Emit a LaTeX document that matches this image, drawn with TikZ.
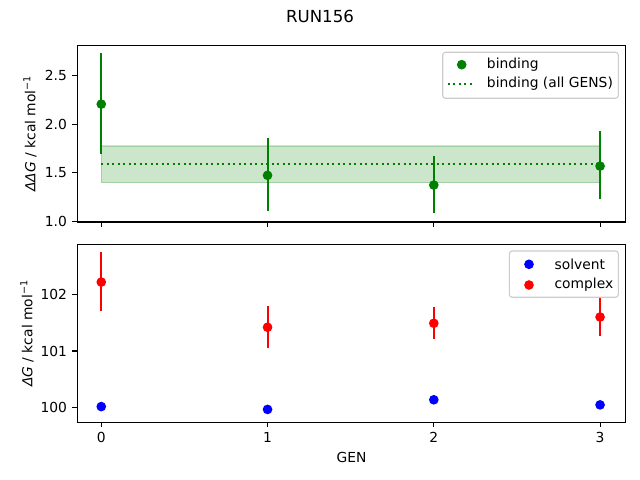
\documentclass[tikz,border=0pt]{standalone}
\usepackage{fontspec}
\setmainfont{DejaVu Sans}
\definecolor{mplgreen}{HTML}{008000}
\definecolor{mplblue}{HTML}{0000FF}
\definecolor{mplred}{HTML}{FF0000}
\definecolor{legendedge}{gray}{0.8}

\tikzset{
	spine/.style={line width=0.8pt},
	tickmark/.style={line width=0.8pt},
	errbar/.style={line width=1.5pt},
	dot/.style={circle,inner sep=0pt,minimum size=7pt},
	ticklabel/.style={inner sep=0pt,font=\fontsize{10}{12}\selectfont},
	legendbox/.style={draw=legendedge,fill=white,rounded corners=2pt,line width=0.8pt},
	legendtext/.style={anchor=west,inner sep=0pt,font=\fontsize{10}{12}\selectfont}
}

\begin{document}
\begin{tikzpicture}[x=0.0254cm,y=0.0254cm,line join=miter]
	\useasboundingbox (0,0) rectangle (640,480);
	\node (title) at (320,464) {\fontsize{12}{14}\selectfont RUN156};
	
	% upper panel: binding
	\begin{scope}[xshift=2.573cm,yshift=4.100cm,x=4.224cm,y=2.471cm]
		\coordinate (TL) at (-0.145,2.812);
		\coordinate (TR) at (3.155,2.812);
		\coordinate (BR) at (3.155,0.993);
		\coordinate (BL) at (-0.145,0.993);
		
		\filldraw[fill=mplgreen,draw=mplgreen,opacity=0.2,line width=1pt] (0,1.397) rectangle (3,1.774);
		\draw[mplgreen,line width=1.5pt,dash pattern=on 1.5pt off 2.475pt] (0,1.592)--(3,1.592);
		
		\foreach \x/\v/\lo/\hi in {0/2.205/1.689/2.727, 1/1.473/1.103/1.853, 2/1.373/1.082/1.668, 3/1.568/1.226/1.928}{
			\draw[errbar,mplgreen] (\x,\lo)--(\x,\hi);
			\node[dot,fill=mplgreen] (bind\x) at (\x,\v) {};
		}
		
		\draw[spine] (TL)--(TR)--(BR)--(BL)--cycle;
		\foreach \x in {0,1,2,3}
			\draw[tickmark] (\x,0.993)--++(0,-3.5pt);
		\foreach \y in {1.0,1.5,2.0,2.5}
			\draw[tickmark] (-0.145,\y)--++(-3.5pt,0) node[ticklabel,anchor=east,xshift=-3.5pt] (ytop\y) {\y};
	\end{scope}
	
	\node[rotate=90,font=\fontsize{10}{12}\selectfont] (ylabtop) at (30,346.5) {\textit{ΔΔG} / kcal mol\textsuperscript{−1}};
	
	% legend upper
	\draw[legendbox] (442.7,381.7) rectangle (618.3,427.7);
	\node[dot,fill=mplgreen] (legbind) at (461.7,415.3) {};
	\coordinate (legallA) at (447.7,396);
	\coordinate (legallB) at (475,396);
	\draw[mplgreen,line width=1.5pt,dash pattern=on 1.5pt off 2.475pt] (legallA)--(legallB);
	\node[legendtext] (txtbind) at (486.7,415.3) {binding};
	\node[legendtext] (txtall) at (486.7,396) {binding (all GENS)};
	
	% lower panel: solvent and complex
	\begin{scope}[xshift=2.573cm,yshift=1.836cm,x=4.224cm,y=1.440cm]
		\coordinate (tl) at (-0.145,2.882);
		\coordinate (tr) at (3.155,2.882);
		\coordinate (br) at (3.155,-0.258);
		\coordinate (bl) at (-0.145,-0.258);
		
		\foreach \x/\v in {0/0.02, 1/-0.03, 2/0.14, 3/0.05}
			\node[dot,fill=mplblue] (solv\x) at (\x,\v) {};
		\foreach \x/\v/\lo/\hi in {0/2.217/1.71/2.75, 1/1.42/1.06/1.79, 2/1.49/1.21/1.77, 3/1.60/1.27/2.02}{
			\draw[errbar,mplred] (\x,\lo)--(\x,\hi);
			\node[dot,fill=mplred] (cplx\x) at (\x,\v) {};
		}
		
		\draw[spine] (tl)--(tr)--(br)--(bl)--cycle;
		\foreach \x in {0,1,2,3}
			\draw[tickmark] (\x,-0.258)--++(0,-3.5pt) node[ticklabel,anchor=north,yshift=-3.5pt] (xbot\x) {\x};
		\foreach \y/\t in {0/100,1/101,2/102}
			\draw[tickmark] (-0.145,\y)--++(-3.5pt,0) node[ticklabel,anchor=east,xshift=-3.5pt] (ybot\y) {\t};
	\end{scope}
	
	\node[rotate=90,font=\fontsize{10}{12}\selectfont] (ylabbot) at (27,146.7) {\textit{ΔG} / kcal mol\textsuperscript{−1}};
	\node[font=\fontsize{10}{12}\selectfont] (xlab) at (351.5,22.3) {GEN};
	
	% legend lower
	\draw[legendbox] (509.3,182.7) rectangle (618.3,229);
	\node[dot,fill=mplblue] (legsolv) at (529,215.7) {};
	\node[dot,fill=mplred] (legcplx) at (529,195) {};
	\node[legendtext] (txtsolv) at (554.3,215.7) {solvent};
	\node[legendtext] (txtcplx) at (554.3,195) {complex};
\end{tikzpicture}
\end{document}
